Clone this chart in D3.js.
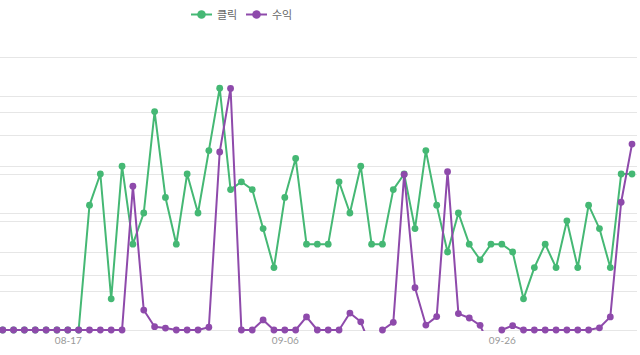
<!DOCTYPE html>
<html>
<head>
<meta charset="utf-8">
<script src="https://cdn.jsdelivr.net/npm/d3@7"></script>
<style>
  html, body { margin: 0; padding: 0; background: #fff; }
  svg { display: block; }
</style>
</head>
<body>
<svg id="chart" width="640" height="355"></svg>
<script>
const dates = ["08-11","08-12","08-13","08-14","08-15","08-16","08-17","08-18","08-19","08-20",
  "08-21","08-22","08-23","08-24","08-25","08-26","08-27","08-28","08-29","08-30",
  "08-31","09-01","09-02","09-03","09-04","09-05","09-06","09-07","09-08","09-09",
  "09-10","09-11","09-12","09-13","09-14","09-15","09-16","09-17","09-18","09-19",
  "09-20","09-21","09-22","09-23","09-24","09-25","09-26","09-27","09-28","09-29",
  "09-30","10-01","10-02","10-03","10-04","10-05","10-06","10-07","10-08"];
const clicks = [0,0,0,0,0,0,0,0,16,20,
  4,21,11,15,28,17,11,20,15,23,
  31,18,19,18,13,8,17,22,11,11,
  11,19,15,21,11,11,18,20,13,23,
  16,10,15,11,9,11,11,10,4,8,
  11,8,14,8,16,13,8,20,20];
const revenue = [0,0,0,0,0,0,0,0,0,0,
  0,0,52.7,7.3,1.2,0.7,0,0,0,1.0,
  65.2,88.5,0,0,3.7,0,0,0,4.8,0,
  0,0,6.2,3.0,-7,0,2.8,57.0,15.5,1.8,
  4.9,58.0,6.0,4.4,1.7,-7,0,1.6,0,0,
  0,0,0,0,0,0.8,4.8,46.8,68.1];
const xTickLabels = ["08-17","09-06","09-26"];
const clickTicks = [0,5,10,15,20,25,30,35];
const revenueTicks = [0,20,40,60,80,100];
const seriesNames = ["클릭","수익"];

const GREEN = "#45b874", PURPLE = "#8e4aab";
const svg = d3.select("#chart");
const plotTop = 57, plotBottom = 330, plotLeft = 2.7, plotRight = 632;

const x = d3.scalePoint().domain(dates).range([plotLeft, plotRight]);
const yC = d3.scaleLinear().domain([0, 35]).range([plotBottom, plotTop]);
const yR = d3.scaleLinear().domain([0, 100]).range([plotBottom, plotTop]);

// gridlines
const grid = svg.append("g");
clickTicks.forEach(t => grid.append("line")
  .attr("x1", 0).attr("x2", 637).attr("y1", Math.round(yC(t)) + 0.5).attr("y2", Math.round(yC(t)) + 0.5)
  .attr("stroke", "#e6e6e6").attr("stroke-width", 1));
revenueTicks.forEach(t => grid.append("line")
  .attr("x1", 0).attr("x2", 637).attr("y1", Math.round(yR(t)) + 0.5).attr("y2", Math.round(yR(t)) + 0.5)
  .attr("stroke", "#e6e6e6").attr("stroke-width", 1));

// x axis
const xAxis = d3.axisBottom(x).tickValues(xTickLabels).tickSize(0).tickPadding(7);
const gx = svg.append("g").attr("transform", `translate(0,${plotBottom})`).call(xAxis);
gx.select(".domain").remove();
gx.selectAll("text").attr("fill", "#999").style("font-family", "Lato, 'Noto Sans', sans-serif").style("font-size", "10px");

svg.append("clipPath").attr("id", "clip").append("rect")
  .attr("x", -5).attr("y", plotTop - 10).attr("width", 650).attr("height", plotBottom - plotTop + 11);

function drawSeries(values, y, color) {
  const data = values.map((v, i) => ({d: dates[i], v}));
  const line = d3.line().x(p => x(p.d)).y(p => y(p.v));
  svg.append("path").datum(data).attr("clip-path", "url(#clip)")
    .attr("d", line).attr("fill", "none").attr("stroke", color).attr("stroke-width", 2)
    .attr("stroke-linejoin", "round");
  svg.append("g").selectAll("circle").data(data.filter(p => p.v >= 0)).join("circle")
    .attr("cx", p => x(p.d)).attr("cy", p => y(p.v)).attr("r", 3.4).attr("fill", color);
}
drawSeries(clicks, yC, GREEN);
drawSeries(revenue, yR, PURPLE);

// legend
const legend = svg.append("g").style("font-family", "'Noto Sans CJK KR', sans-serif").style("font-size", "11px");
const items = [{name: seriesNames[0], color: GREEN, x: 191}, {name: seriesNames[1], color: PURPLE, x: 246}];
items.forEach(it => {
  legend.append("line").attr("x1", it.x).attr("x2", it.x + 21).attr("y1", 14.5).attr("y2", 14.5)
    .attr("stroke", it.color).attr("stroke-width", 2);
  legend.append("circle").attr("cx", it.x + 10.5).attr("cy", 14.5).attr("r", 4.3).attr("fill", it.color);
  legend.append("text").attr("x", it.x + 26).attr("y", 18.5).attr("fill", "#666").text(it.name);
});
</script>
</body>
</html>
